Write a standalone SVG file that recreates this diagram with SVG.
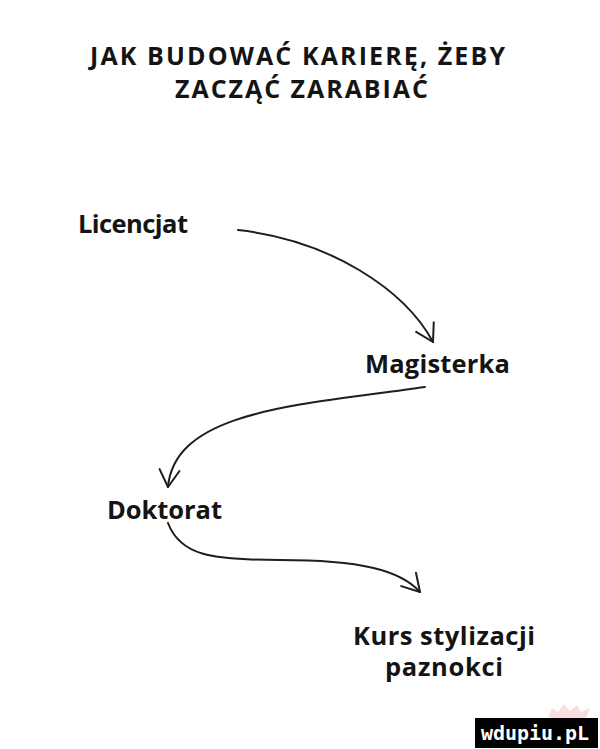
<svg xmlns="http://www.w3.org/2000/svg" width="600" height="749" viewBox="0 0 600 749">
<style>
.t{font-family:"Open Sans","Liberation Sans",sans-serif;font-weight:bold;fill:#141414;}
.title{font-size:25px;}
.lab{font-size:25.5px;}
.c{fill:none;stroke:#1e1e1e;stroke-width:2;stroke-linecap:round;}
</style>
<defs>
<marker id="v" viewBox="-20 -12 22 24" markerWidth="22" markerHeight="24" refX="0" refY="0" orient="auto" markerUnits="userSpaceOnUse">
<path d="M-17,-10 L0,0 L-17,10" fill="none" stroke="#1e1e1e" stroke-width="2" stroke-linecap="round" stroke-linejoin="round"/>
</marker>
</defs>
<rect width="600" height="749" fill="#fff"/>
<g id="title">
<text class="t title" x="90" y="65" textLength="415">JAK BUDOWAĆ KARIERĘ, ŻEBY</text>
<text class="t title" x="175" y="98" textLength="253">ZACZĄĆ ZARABIAĆ</text>
</g>
<g id="licencjat"><text class="t lab" x="78" y="233" textLength="110">Licencjat</text></g>
<g id="magisterka"><text class="t lab" x="365" y="373" textLength="145">Magisterka</text></g>
<g id="doktorat"><text class="t lab" x="107" y="519" textLength="115">Doktorat</text></g>
<g id="kurs">
<text class="t lab" x="353" y="645" textLength="182">Kurs stylizacji</text>
<text class="t lab" x="385" y="676" textLength="118">paznokci</text>
</g>
<g id="connectors">
<path class="c" d="M238,230 C330,240 405,290 433,342" marker-end="url(#v)"/>
<path class="c" d="M425,387 C300,405 175,410 168,487" marker-end="url(#v)"/>
<path class="c" d="M168,523 C180,555 210,560 280,560 C360,560 400,570 420,592" marker-end="url(#v)"/>
</g>
<g id="watermark">
<path d="M548,718 L552,708 L558,712 L564,704 L570,711 L577,705 L581,712 L590,708 L586,718 Z" fill="#f6c8c8" opacity="0.6"/>
<rect x="475" y="718" width="123" height="30" fill="#000"/>
<text x="481" y="740" font-family="DejaVu Sans Mono,monospace" font-weight="bold" font-size="20" fill="#fff" textLength="108">wdupiu.pL</text>
</g>
</svg>
